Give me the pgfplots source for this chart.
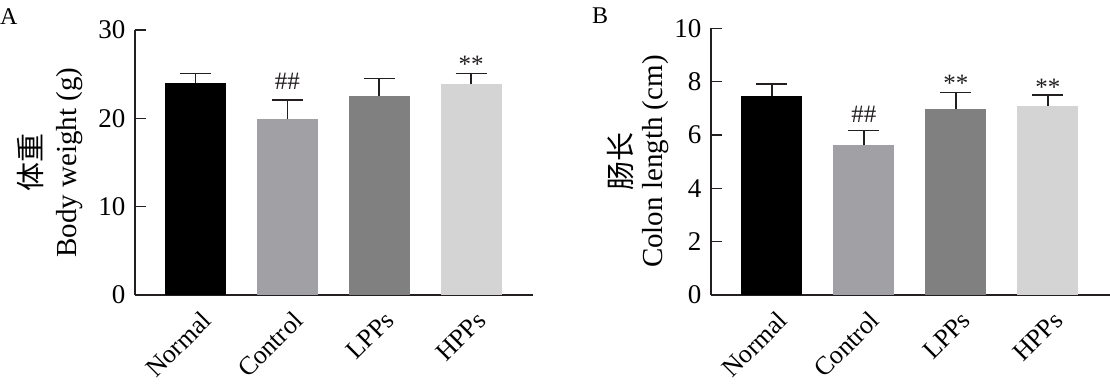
\documentclass[border=0pt]{standalone}
\usepackage{pgfplots}
\pgfplotsset{compat=1.18}
\usepackage{fontspec}
\setmainfont{Liberation Serif}
\newfontfamily\cjk{Noto Sans CJK SC}
\definecolor{axiscol}{HTML}{231F20}
\definecolor{cNormal}{HTML}{000000}
\definecolor{cControl}{HTML}{A1A0A5}
\definecolor{cLPPs}{HTML}{808080}
\definecolor{cHPPs}{HTML}{D4D4D4}
\tikzset{ann/.style={anchor=base, font=\fontsize{25}{30}\selectfont, text=axiscol}}
\pgfplotsset{
  panel/.style={
    scale only axis, anchor=south west, clip=false,
    axis x line*=bottom, axis y line*=left,
    ymin=0, xmin=-0.66, xmax=3.675, enlargelimits=false,
    xtick={0,1,2,3}, xticklabels={Normal,Control,LPPs,HPPs},
    x tick style={draw=none},
    xticklabel style={rotate=45, anchor=north east, xshift=-4pt, yshift=-10pt, font=\fontsize{26}{30}\selectfont},
    yticklabel style={xshift=-6pt, font=\fontsize{27}{32}\selectfont},
    tick align=inside, major tick length=11pt,
    y tick style={line width=1.5pt, color=axiscol},
    axis line style={line width=1.5pt, color=axiscol},
    /pgf/number format/assume math mode=true,
  },
  bb/.style={ybar, bar width=61pt, bar shift=0pt, draw=none, fill=#1,
    error bars/.cd, y dir=plus, y explicit, error mark=|,
    error bar style={line width=1.5pt, draw=axiscol},
    error mark options={line width=1.5pt, mark size=15.5pt, draw=axiscol}},
}
\begin{document}
\begin{tikzpicture}[x=1pt,y=1pt]
\useasboundingbox (0,0) rectangle (1110,383);
\node[anchor=north west, inner sep=0pt, font=\fontsize{24}{27}\selectfont] at (0,375) {A};
\node[anchor=north west, inner sep=0pt, font=\fontsize{24}{27}\selectfont] at (592,375) {B};
\begin{axis}[panel, at={(135pt,88pt)}, width=398pt, height=265pt,
  ymax=30, ytick={0,10,20,30},
  ylabel={{\cjk 体重}\\Body weight (g)},
  every axis y label/.style={at={(axis description cs:-0.2148,0.5)}, rotate=90, anchor=center, align=center, font=\fontsize{29}{35}\selectfont}]
\addplot[bb=cNormal] coordinates {(0,24.0) +- (0,1.1)};
\addplot[bb=cControl] coordinates {(1,19.9) +- (0,2.2)};
\addplot[bb=cLPPs] coordinates {(2,22.5) +- (0,2.0)};
\addplot[bb=cHPPs] coordinates {(3,23.9) +- (0,1.2)};
\node[ann, yshift=10pt] at (axis cs:1,22.1) {\#\#};
\node[ann, yshift=1pt] at (axis cs:3,25.1) {**};
\end{axis}
\begin{axis}[panel, at={(711pt,88pt)}, width=399pt, height=266.7pt,
  ymax=10, ytick={0,2,4,6,8,10},
  ylabel={{\cjk 肠长}\\Colon length (cm)},
  every axis y label/.style={at={(axis description cs:-0.184,0.5)}, rotate=90, anchor=center, align=center, font=\fontsize{29}{31}\selectfont}]
\addplot[bb=cNormal] coordinates {(0,7.47) +- (0,0.44)};
\addplot[bb=cControl] coordinates {(1,5.61) +- (0,0.56)};
\addplot[bb=cLPPs] coordinates {(2,6.97) +- (0,0.63)};
\addplot[bb=cHPPs] coordinates {(3,7.10) +- (0,0.39)};
\node[ann, yshift=8pt] at (axis cs:1,6.17) {\#\#};
\node[ann, yshift=1pt] at (axis cs:2,7.60) {**};
\node[ann, yshift=0pt] at (axis cs:3,7.49) {**};
\end{axis}
\end{tikzpicture}
\end{document}
